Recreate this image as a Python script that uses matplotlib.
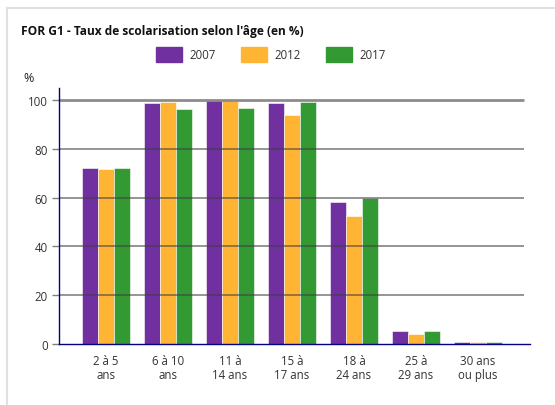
import matplotlib
matplotlib.use("Agg")
import matplotlib.pyplot as plt
from matplotlib.patches import Rectangle
from matplotlib.lines import Line2D
import numpy as np

categories = ["2 à 5\nans", "6 à 10\nans", "11 à\n14 ans", "15 à\n17 ans", "18 à\n24 ans", "25 à\n29 ans", "30 ans\nou plus"]
years = ["2007", "2012", "2017"]
v2007 = [72.1, 98.8, 99.6, 98.8, 58.2, 5.4, 0.7]
v2012 = [71.7, 99.2, 99.6, 93.9, 52.5, 4.1, 1.0]
v2017 = [72.1, 96.3, 96.7, 99.2, 60.0, 5.4, 1.0]
yticks = [0, 20, 40, 60, 80, 100]
colors = ["#7030A0", "#FFB533", "#339933"]

plt.rcParams['font.family'] = ['Open Sans', 'DejaVu Sans']

W, H = 555, 406
fig = plt.figure(figsize=(W / 100, H / 100), dpi=100)

# frame
fig.add_artist(Line2D([7 / W, 1], [1 - 9 / H] * 2, color="#e0e0e0", lw=1.5))
fig.add_artist(Line2D([7 / W] * 2, [0, 1 - 9 / H], color="#e0e0e0", lw=1.5))

# title
fig.text(21 / W, 1 - 32 / H, "FOR G1 - Taux de scolarisation selon l'âge (en %)",
         fontsize=8.6, fontweight="bold", va="center", ha="left", color="#111111")

# legend
leg_x = [156, 241, 326]
for lx, c, yr in zip(leg_x, colors, years):
    fig.add_artist(Rectangle((lx / W, 1 - 63 / H), 26 / W, 15 / H, color=c,
                             transform=fig.transFigure))
    fig.text((lx + 33) / W, 1 - 55.5 / H, yr, fontsize=8.3, va="center", ha="left", color="#333333")

fig.text(23 / W, 1 - 78 / H, "%", fontsize=9, va="center", ha="left", color="#222222")

left, right, bottom, top = 59, 530, 345, 89
ax = fig.add_axes([left / W, 1 - bottom / H, (right - left) / W, (bottom - top) / H])
spacing = 62.0
x = np.arange(len(categories))
ax.set_xlim(-(106 - left) / spacing, (right - 106) / spacing)
ax.set_ylim(0, 105)

bw = 16 / spacing
for i, (vals, c) in enumerate(zip([v2007, v2012, v2017], colors)):
    ax.bar(x + (i - 1) * bw, vals, width=bw, color=c, edgecolor="white", linewidth=0.4, zorder=2)

grid_end = (524 - 106) / spacing
for t in yticks[1:]:
    lw = 2.0 if t == 100 else 1.3
    ax.hlines(t, ax.get_xlim()[0], grid_end, color="#404040", alpha=0.6, lw=lw, zorder=3)

for s in ["top", "right"]:
    ax.spines[s].set_visible(False)
ax.spines["left"].set_color("#000080")
ax.spines["bottom"].set_color("#000080")
ax.spines["left"].set_linewidth(1.0)
ax.spines["bottom"].set_linewidth(1.0)
ax.spines["left"].set_zorder(4)
ax.spines["bottom"].set_zorder(4)

ax.set_yticks(yticks)
ax.set_yticklabels([str(t) for t in yticks], fontsize=8.3, color="#333333")
ax.tick_params(axis="y", length=5, color="#808080", width=1, pad=3)
ax.set_xticks(x)
ax.set_xticklabels(categories, fontsize=8.3, color="#333333", linespacing=1.1)
ax.tick_params(axis="x", length=0, pad=7)

fig.savefig("out.png", dpi=100)
